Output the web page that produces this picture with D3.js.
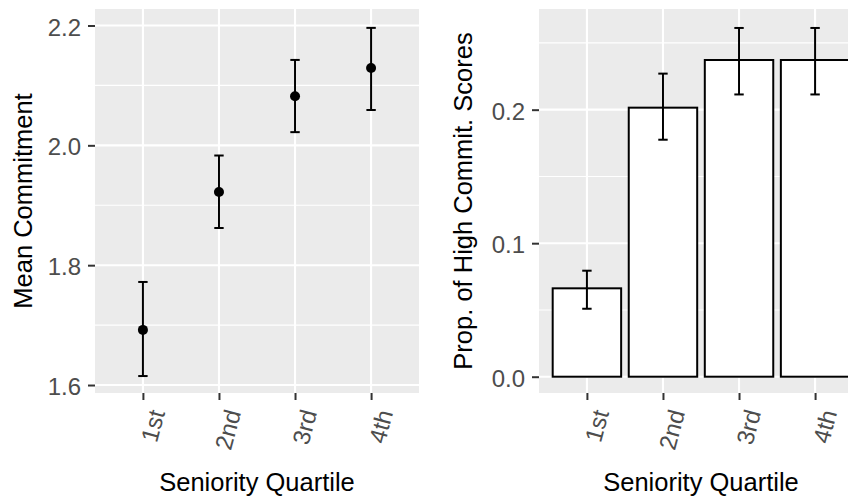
<!DOCTYPE html>
<html>
<head>
<meta charset="utf-8">
<script src="https://cdn.jsdelivr.net/npm/d3@7"></script>
<style>
  html, body { margin: 0; padding: 0; background: #ffffff; }
  svg { display: block; }
  text { font-family: "Liberation Sans", Arial, sans-serif; }
</style>
</head>
<body>
<svg id="chart" width="848" height="499"></svg>
<script>
// ---- data ----
const categories = ["1st", "2nd", "3rd", "4th"];
const meanCommit = [1.692, 1.922, 2.082, 2.129];
const meanLower  = [1.615, 1.862, 2.022, 2.059];
const meanUpper  = [1.772, 1.983, 2.1425, 2.196];
const propHigh   = [0.0662, 0.2015, 0.2372, 0.2372];
const propLower  = [0.0509, 0.1775, 0.2114, 0.2114];
const propUpper  = [0.0794, 0.227, 0.2612, 0.2612];
const leftYTicks = [1.6, 1.8, 2.0, 2.2];
const leftYMinor = [1.7, 1.9, 2.1];
const rightYTicks = [0.0, 0.1, 0.2];
const rightYMinor = [0.05, 0.15, 0.25];
const xTitle = "Seniority Quartile";
const leftYTitle = "Mean Commitment";
const rightYTitle = "Prop. of High Commit. Scores";

const svg = d3.select("#chart");
const TICK_FONT = 24, TITLE_FONT = 25.5;
const panelTop = 9, panelBottom = 393;

function drawPanel(opts) {
  const { x0, x1, yDomain, yTicks, yMinor, yFmt, yTitle, yTitleX, drawMarks } = opts;
  const x = d3.scalePoint().domain(categories).range([x0, x1]).padding(0.63);
  const y = d3.scaleLinear().domain(yDomain).range([panelBottom, panelTop]);
  const g = svg.append("g");

  g.append("rect").attr("x", x0).attr("y", panelTop)
    .attr("width", x1 - x0).attr("height", panelBottom - panelTop)
    .attr("fill", "#EBEBEB");

  // minor grid
  g.selectAll(".minor").data(yMinor).join("line")
    .attr("x1", x0).attr("x2", x1)
    .attr("y1", d => y(d)).attr("y2", d => y(d))
    .attr("stroke", "#ffffff").attr("stroke-width", 1.1);
  // major grid
  g.selectAll(".majorY").data(yTicks).join("line")
    .attr("x1", x0).attr("x2", x1)
    .attr("y1", d => y(d)).attr("y2", d => y(d))
    .attr("stroke", "#ffffff").attr("stroke-width", 2.1);
  g.selectAll(".majorX").data(categories).join("line")
    .attr("x1", d => x(d)).attr("x2", d => x(d))
    .attr("y1", panelTop).attr("y2", panelBottom)
    .attr("stroke", "#ffffff").attr("stroke-width", 2.1);

  drawMarks(g, x, y);

  // y axis
  const ya = g.append("g").attr("transform", `translate(${x0},0)`)
    .call(d3.axisLeft(y).tickValues(yTicks).tickFormat(yFmt).tickSize(7).tickPadding(7));
  ya.select(".domain").remove();
  ya.selectAll(".tick line").attr("stroke", "#333333").attr("stroke-width", 2);
  ya.selectAll(".tick text").attr("fill", "#4D4D4D")
    .style("font-size", TICK_FONT + "px").style("font-family", '"Liberation Sans", Arial, sans-serif')
    .attr("dy", "0.4em");

  // x axis
  const xa = g.append("g").attr("transform", `translate(0,${panelBottom})`)
    .call(d3.axisBottom(x).tickSize(7).tickPadding(0));
  xa.select(".domain").remove();
  xa.selectAll(".tick line").attr("stroke", "#333333").attr("stroke-width", 2);
  xa.selectAll(".tick text").attr("fill", "#4D4D4D")
    .style("font-size", TICK_FONT + "px").style("font-family", '"Liberation Sans", Arial, sans-serif')
    .attr("text-anchor", "end")
    .attr("x", 0).attr("y", 0).attr("dy", "0.72em")
    .attr("transform", "translate(5,15) rotate(-75)");

  // titles
  g.append("text").attr("x", (x0 + x1) / 2).attr("y", 491)
    .attr("text-anchor", "middle").attr("fill", "#000")
    .style("font-size", TITLE_FONT + "px").text(xTitle);
  g.append("text")
    .attr("transform", `translate(${yTitleX},${(panelTop + panelBottom) / 2}) rotate(-90)`)
    .attr("text-anchor", "middle").attr("fill", "#000")
    .style("font-size", TITLE_FONT + "px").text(yTitle);
}

function errorBars(g, x, y, data) {
  const cap = 4.7;
  const eb = g.selectAll(".eb").data(data).join("g");
  eb.append("line").attr("x1", d => x(d.c)).attr("x2", d => x(d.c))
    .attr("y1", d => y(d.lo)).attr("y2", d => y(d.hi))
    .attr("stroke", "#000").attr("stroke-width", 2);
  eb.append("line").attr("x1", d => x(d.c) - cap).attr("x2", d => x(d.c) + cap)
    .attr("y1", d => y(d.lo)).attr("y2", d => y(d.lo))
    .attr("stroke", "#000").attr("stroke-width", 2);
  eb.append("line").attr("x1", d => x(d.c) - cap).attr("x2", d => x(d.c) + cap)
    .attr("y1", d => y(d.hi)).attr("y2", d => y(d.hi))
    .attr("stroke", "#000").attr("stroke-width", 2);
}

// Left panel: points with error bars
drawPanel({
  x0: 95, x1: 419,
  yDomain: [1.5867, 2.2275],
  yTicks: leftYTicks, yMinor: leftYMinor,
  yFmt: d3.format(".1f"),
  yTitle: leftYTitle, yTitleX: 32,
  drawMarks: (g, x, y) => {
    const data = categories.map((c, i) => ({ c, v: meanCommit[i], lo: meanLower[i], hi: meanUpper[i] }));
    errorBars(g, x, y, data);
    g.selectAll(".pt").data(data).join("circle")
      .attr("cx", d => x(d.c)).attr("cy", d => y(d.v)).attr("r", 5)
      .attr("fill", "#000");
  }
});

// Right panel: bars with error bars (cropped at the right edge)
drawPanel({
  x0: 539, x1: 863,
  yDomain: [-0.0122, 0.2754],
  yTicks: rightYTicks, yMinor: rightYMinor,
  yFmt: d3.format(".1f"),
  yTitle: rightYTitle, yTitleX: 472,
  drawMarks: (g, x, y) => {
    const data = categories.map((c, i) => ({ c, v: propHigh[i], lo: propLower[i], hi: propUpper[i] }));
    const bw = x.step() * 0.9;
    g.selectAll(".bar").data(data).join("rect")
      .attr("x", d => x(d.c) - bw / 2).attr("width", bw)
      .attr("y", d => y(d.v)).attr("height", d => y(0) - y(d.v))
      .attr("fill", "#ffffff").attr("stroke", "#000").attr("stroke-width", 2);
    errorBars(g, x, y, data);
  }
});
</script>
</body>
</html>
